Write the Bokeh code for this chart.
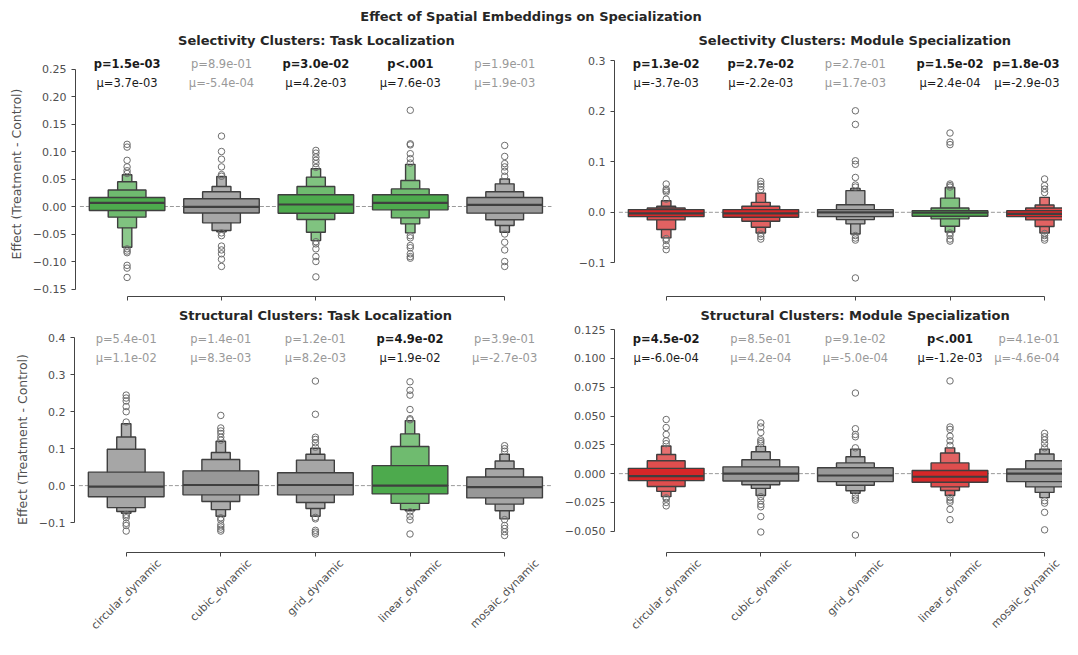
import math
from bokeh.plotting import figure
from bokeh.layouts import column, row
from bokeh.models import FixedTicker, Div, Range1d, ColumnDataSource, LinearAxis, Title
from bokeh.core.properties import value
from bokeh.embed import file_html
from bokeh.resources import INLINE

# ---------------- data ----------------
categories = ["circular_dynamic", "cubic_dynamic", "grid_dynamic", "linear_dynamic", "mosaic_dynamic"]

suptitle = "Effect of Spatial Embeddings on Specialization"
tl_title = "Selectivity Clusters: Task Localization"
tr_title = "Selectivity Clusters: Module Specialization"
bl_title = "Structural Clusters: Task Localization"
br_title = "Structural Clusters: Module Specialization"
y_axis_label = "Effect (Treatment - Control)"

tl_p = [1.5e-03, 8.9e-01, 3.0e-02, 5.0e-04, 1.9e-01]
tl_mu = [3.7e-03, -5.4e-04, 4.2e-03, 7.6e-03, 1.9e-03]
tr_p = [1.3e-02, 2.7e-02, 2.7e-01, 1.5e-02, 1.8e-03]
tr_mu = [-3.7e-03, -2.2e-03, 1.7e-03, 2.4e-04, -2.9e-03]
bl_p = [5.4e-01, 1.4e-01, 1.2e-01, 4.9e-02, 3.9e-01]
bl_mu = [1.1e-02, 8.3e-03, 8.2e-03, 1.9e-02, -2.7e-03]
br_p = [4.5e-02, 8.5e-01, 9.1e-02, 5.0e-04, 4.1e-01]
br_mu = [-6.0e-04, 4.2e-04, -5.0e-04, -1.2e-03, -4.6e-04]

# boxen levels (innermost first): lower / upper bounds, medians, outliers
tl_median = [0.0067, -0.0005, 0.0036, 0.0067, 0.0030]
tl_lower = [[-0.0073, -0.0194, -0.0388, -0.0740],
            [-0.0118, -0.0297, -0.0437, -0.0460],
            [-0.0122, -0.0237, -0.0468, -0.0620],
            [-0.0061, -0.0207, -0.0316, -0.0480],
            [-0.0121, -0.0242, -0.0345, -0.0467]]
tl_upper = [[0.0164, 0.0300, 0.0450, 0.0576],
            [0.0140, 0.0267, 0.0364, 0.0546],
            [0.0213, 0.0365, 0.0535, 0.0687],
            [0.0213, 0.0320, 0.0474, 0.0766],
            [0.0164, 0.0267, 0.0412, 0.0500]]
tl_outliers = [[0.113, 0.108, 0.084, 0.072, 0.065, 0.060, -0.077, -0.081, -0.084, -0.107, -0.112, -0.129],
               [0.128, 0.100, 0.086, 0.072, 0.058, 0.055, -0.048, -0.053, -0.072, -0.079, -0.086, -0.096, -0.109],
               [0.102, 0.097, 0.090, 0.084, 0.078, 0.071, -0.064, -0.068, -0.077, -0.091, -0.100, -0.128],
               [0.175, 0.114, 0.112, 0.096, 0.087, 0.079, -0.053, -0.057, -0.071, -0.075, -0.086, -0.091, -0.094],
               [0.111, 0.091, 0.078, 0.072, 0.064, 0.055, -0.050, -0.065, -0.079, -0.100, -0.109]]

tr_median = [-0.0022, -0.0020, 0.0000, -0.0007, -0.0030]
tr_lower = [[-0.0086, -0.0150, -0.0340, -0.0507],
            [-0.0099, -0.0178, -0.0296, -0.0410],
            [-0.0086, -0.0145, -0.0230, -0.0430],
            [-0.0079, -0.0130, -0.0276, -0.0390],
            [-0.0086, -0.0150, -0.0280, -0.0410]]
tr_upper = [[0.0053, 0.0086, 0.0120, 0.0230],
            [0.0053, 0.0120, 0.0197, 0.0380],
            [0.0053, 0.0150, 0.0430, 0.0470],
            [0.0033, 0.0086, 0.0280, 0.0490],
            [0.0033, 0.0086, 0.0145, 0.0296]]
tr_outliers = [[0.056, 0.046, 0.043, 0.040, 0.026, -0.052, -0.056, -0.066, -0.074],
               [0.061, 0.056, 0.051, 0.045, -0.043, -0.048, -0.053],
               [0.201, 0.174, 0.102, 0.095, 0.069, 0.054, 0.050, -0.046, -0.051, -0.055, -0.130],
               [0.157, 0.139, 0.134, 0.056, 0.053, 0.050, -0.041, -0.046, -0.053, -0.057],
               [0.066, 0.053, 0.046, 0.039, -0.042, -0.046, -0.051, -0.055]]

bl_median = [-0.0025, 0.0017, 0.0017, 0.0000, -0.0040]
bl_lower = [[-0.0300, -0.0595, -0.0700, -0.0750],
            [-0.0250, -0.0432, -0.0650, -0.0830],
            [-0.0250, -0.0457, -0.0620, -0.0830],
            [-0.0224, -0.0480, -0.0650, -0.0680],
            [-0.0333, -0.0500, -0.0680, -0.0900]]
bl_upper = [[0.0365, 0.0985, 0.1315, 0.1675],
            [0.0400, 0.0707, 0.0898, 0.1200],
            [0.0350, 0.0690, 0.0850, 0.1010],
            [0.0540, 0.1060, 0.1400, 0.1760],
            [0.0233, 0.0457, 0.0665, 0.0850]]
bl_outliers = [[0.245, 0.237, 0.229, 0.214, 0.200, 0.172, -0.078, -0.082, -0.087, -0.102, -0.108, -0.123],
               [0.190, 0.156, 0.148, 0.141, 0.131, 0.123, -0.087, -0.093, -0.106, -0.112, -0.118, -0.123],
               [0.283, 0.193, 0.131, 0.125, 0.116, 0.104, -0.086, -0.090, -0.121, -0.126, -0.131],
               [0.281, 0.258, 0.245, 0.206, 0.181, 0.178, -0.071, -0.083, -0.093, -0.131],
               [0.108, 0.100, 0.093, -0.092, -0.108, -0.116, -0.125, -0.135]]

br_median = [-0.0022, 0.0000, -0.0016, -0.0027, 0.0000]
br_lower = [[-0.0061, -0.0112, -0.0154, -0.0200],
            [-0.0064, -0.0096, -0.0128, -0.0190],
            [-0.0069, -0.0101, -0.0149, -0.0170],
            [-0.0075, -0.0115, -0.0147, -0.0190],
            [-0.0069, -0.0115, -0.0163, -0.0208]]
br_upper = [[0.0046, 0.0112, 0.0166, 0.0240],
            [0.0059, 0.0120, 0.0190, 0.0237],
            [0.0051, 0.0093, 0.0147, 0.0213],
            [0.0027, 0.0093, 0.0179, 0.0224],
            [0.0040, 0.0112, 0.0170, 0.0213]]
br_outliers = [[0.047, 0.040, 0.034, 0.0285, 0.026, -0.021, -0.022, -0.025, -0.028],
               [0.044, 0.0405, 0.0357, 0.0293, 0.0277, 0.026, -0.020, -0.0235, -0.0267, -0.0288, -0.0373, -0.0507],
               [0.070, 0.039, 0.034, 0.032, 0.0224, -0.0195, -0.0213, -0.023, -0.0533],
               [0.0805, 0.0405, 0.0384, 0.0325, 0.0285, 0.0245, -0.0208, -0.023, -0.0248, -0.031, -0.040],
               [0.035, 0.032, 0.0293, 0.026, 0.0224, -0.0235, -0.0256, -0.0336, -0.0488]]

tl_yticks = [-0.15, -0.10, -0.05, 0.00, 0.05, 0.10, 0.15, 0.20, 0.25]
tl_ylabels = ["\u22120.15", "\u22120.10", "\u22120.05", "0.00", "0.05", "0.10", "0.15", "0.20", "0.25"]
tr_yticks = [-0.1, 0.0, 0.1, 0.2, 0.3]
tr_ylabels = ["\u22120.1", "0.0", "0.1", "0.2", "0.3"]
bl_yticks = [-0.1, 0.0, 0.1, 0.2, 0.3, 0.4]
bl_ylabels = ["\u22120.1", "0.0", "0.1", "0.2", "0.3", "0.4"]
br_yticks = [-0.050, -0.025, 0.000, 0.025, 0.050, 0.075, 0.100, 0.125]
br_ylabels = ["\u22120.050", "\u22120.025", "0.000", "0.025", "0.050", "0.075", "0.100", "0.125"]

# ---------------- style ----------------
FONT = "DejaVu Sans"
GREEN = ["#4daa4d", "#6fbb6f", "#80c380", "#8cc98c"]
RED = ["#d62728", "#df4e4e", "#e26262", "#e57070"]
GRAY = ["#989898", "#a6a6a6", "#acacac", "#b0b0b0"]
EDGE = "#3f3f3f"
TICK_COLOR = "#505050"
AXIS_COLOR = "#444444"
TITLE_COLOR = "#262626"
SIG_COLOR = "#1a1a1a"
NS_COLOR = "#999999"
SP = 94.6  # px per category

# DejaVu Sans advance widths (em)
CW = {"a": .613, "b": .635, "c": .550, "d": .635, "e": .615, "g": .635, "i": .278, "l": .278,
      "m": .974, "n": .634, "o": .612, "r": .411, "s": .521, "u": .634, "y": .592, "_": .500}


def text_w(s, fs=11.0):
    return sum(CW.get(ch, 0.6) for ch in s) * fs


def style_axis(ax):
    ax.axis_line_color = AXIS_COLOR
    ax.major_tick_line_color = AXIS_COLOR
    ax.major_tick_in = 0
    ax.minor_tick_out = 0
    ax.minor_tick_in = 0
    ax.major_label_text_font = FONT
    ax.major_label_text_font_size = "11px"
    ax.major_label_text_color = TICK_COLOR


def make_panel(title, title_left, pv, mu, med, lo, hi, outl, yticks, ylabels,
               fl, fr, ft, fb, zero, ppu, bottom_ref, cat0,
               c_left, c_w, c_top, c_h, ylabel, xlabels):
    x0 = (fl - cat0) / SP
    x1 = (fr - cat0) / SP
    y1 = (zero - ft) / ppu          # frame top sits at the reference frame top
    y0 = (zero - bottom_ref) / ppu  # frame bottom shows the reference's lower limit
    ppl = (fb - ft) / (y1 - y0)

    p = figure(width=c_w, height=c_h, x_range=Range1d(x0, x1), y_range=Range1d(y0, y1),
               toolbar_location=None, output_backend="svg",
               min_border_left=fl - c_left, min_border_right=c_left + c_w - fr,
               min_border_top=ft - c_top, min_border_bottom=c_top + c_h - fb)
    p.outline_line_color = None
    p.grid.visible = False

    p.title.text = title
    p.title.align = "left"
    p.title.offset = title_left - fl
    p.title.text_font = FONT
    p.title.text_font_size = "13px"
    p.title.text_font_style = "bold"
    p.title.text_color = TITLE_COLOR
    p.title.standoff = 7

    n = len(categories)
    idx = list(range(n))

    # zero reference line
    p.segment(x0=[-0.5], x1=[n - 0.5], y0=[0.0], y1=[0.0], line_color="#9a9a9a",
              line_width=1, line_dash="4 2")

    sig = [pp < 0.05 for pp in pv]

    def pal(i):
        if not sig[i]:
            return GRAY
        return GREEN if mu[i] > 0 else RED

    nlev = len(lo[0])
    for k in reversed(range(nlev)):
        half = 0.4 / (2 ** k)
        src = ColumnDataSource(dict(
            left=[i - half for i in idx], right=[i + half for i in idx],
            bottom=[lo[i][k] for i in idx], top=[hi[i][k] for i in idx],
            color=[pal(i)[k] for i in idx]))
        p.quad(left="left", right="right", bottom="bottom", top="top", source=src,
               fill_color="color", line_color=EDGE, line_width=1.4)

    p.segment(x0=[i - 0.4 for i in idx], x1=[i + 0.4 for i in idx], y0=med, y1=med,
              line_color=EDGE, line_width=2.2)

    ox = [i for i in idx for _ in outl[i]]
    oy = [v for i in idx for v in outl[i]]
    p.scatter(ox, oy, marker="circle", size=6.5, fill_color=None, line_color="#6e6e6e", line_width=1)

    # p-value / mean annotations
    ptxt = ["p<.001" if pp < 0.001 else "p=%.1e" % pp for pp in pv]
    mtxt = ["\u03bc=%.1e" % m for m in mu]
    yp = y1 - 12.7 / ppl
    ym = y1 - 31.8 / ppl
    for flag, style, color in [(True, "bold", SIG_COLOR), (False, "normal", NS_COLOR)]:
        for i in idx:
            if sig[i] != flag:
                continue
            cx = cat0 + i * SP
            if cx + 36 > fr:   # keep the text inside the visible frame
                tx, al = x1 - 3.0 / SP, "right"
            else:
                tx, al = i, "center"
            p.text(x=[tx], y=[yp], text=[ptxt[i]],
                   text_font=value(FONT), text_font_size="11.5px", text_font_style=style,
                   text_color=color, text_align=al, text_baseline="middle")
            p.text(x=[tx], y=[ym], text=[mtxt[i]],
                   text_font=value(FONT), text_font_size="11.5px", text_font_style="normal",
                   text_color=color, text_align=al, text_baseline="middle")

    # y axis
    ya = p.yaxis[0]
    style_axis(ya)
    ya.ticker = FixedTicker(ticks=yticks)
    ya.major_label_overrides = dict(zip(yticks, ylabels))
    ya.bounds = (min(yticks), max(yticks))
    ya.major_tick_out = 4
    ya.major_label_standoff = 5
    if ylabel:
        p.add_layout(Title(text=y_axis_label, align="center", text_font=FONT,
                           text_font_size="12.5px", text_font_style="normal",
                           text_color=TICK_COLOR, standoff=12), "left")

    # x axis: line + ticks at the categories, no labels
    xa = p.xaxis[0]
    style_axis(xa)
    xa.ticker = FixedTicker(ticks=idx)
    xa.bounds = (0, n - 1)
    xa.major_label_text_color = None
    xa.major_label_standoff = 0
    xa.major_tick_out = 4

    if xlabels:
        # rotated category labels, centred under their ticks
        pos = []
        for i, c in enumerate(categories):
            lp = i + 0.3536 * text_w(c) / SP
            pos.append(min(lp, x1 - 0.01))
        lab = LinearAxis(ticker=FixedTicker(ticks=pos),
                         major_label_overrides=dict(zip(pos, categories)))
        style_axis(lab)
        lab.axis_line_color = None
        lab.major_tick_out = 0
        lab.major_label_orientation = math.pi / 4
        lab.major_label_standoff = 5
        p.add_layout(lab, "below")
    return p


W_TOTAL = 1062
H_TOTAL = 639
DIV_H = 24
ROW_B = 301
LEFT_W = 556
BOT_FB = 554

tl = make_panel(tl_title, 176.6, tl_p, tl_mu, tl_median, tl_lower, tl_upper, tl_outliers,
                tl_yticks, tl_ylabels, 74, 551, 51, 296, 206.0, 550.0, 296.0, 125.7,
                0, LEFT_W, DIV_H, ROW_B - DIV_H, True, False)
tr = make_panel(tr_title, 698.0, tr_p, tr_mu, tr_median, tr_lower, tr_upper, tr_outliers,
                tr_yticks, tr_ylabels, 614, W_TOTAL, 51, 296, 211.8, 505.0, 296.0, 665.7,
                LEFT_W, W_TOTAL - LEFT_W, DIV_H, ROW_B - DIV_H, False, False)
bl = make_panel(bl_title, 178.4, bl_p, bl_mu, bl_median, bl_lower, bl_upper, bl_outliers,
                bl_yticks, bl_ylabels, 74, 551, 326, BOT_FB, 498.7, 401.0, 571.3, 125.7,
                0, LEFT_W, ROW_B, H_TOTAL - ROW_B, True, True)
br = make_panel(br_title, 700.0, br_p, br_mu, br_median, br_lower, br_upper, br_outliers,
                br_yticks, br_ylabels, 614, W_TOTAL, 326, BOT_FB, 485.7, 1250.0, 571.3, 665.7,
                LEFT_W, W_TOTAL - LEFT_W, ROW_B, H_TOTAL - ROW_B, False, True)

head = Div(text=('<div style="width:%dpx;text-align:center;font-family:\'DejaVu Sans\';'
                 'font-weight:bold;font-size:13px;line-height:14px;padding-top:10px;color:%s;">%s</div>'
                 % (W_TOTAL, TITLE_COLOR, suptitle)),
           width=W_TOTAL, height=DIV_H, margin=(0, 0, 0, 0))

layout = column(head, row(tl, tr, spacing=0), row(bl, br, spacing=0), spacing=0)

open("out.html", "w").write(file_html(layout, INLINE))
